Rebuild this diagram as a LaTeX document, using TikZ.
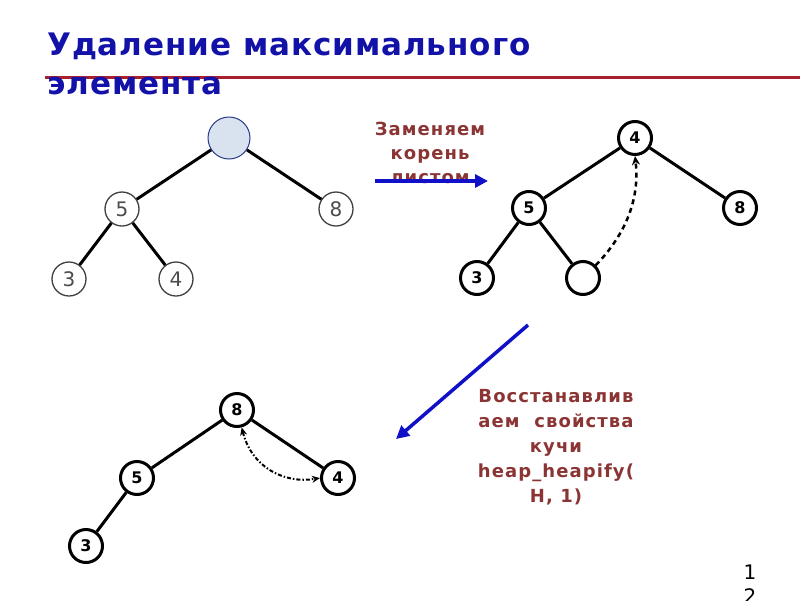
\documentclass[tikz,border=0pt]{standalone}
\usepackage{fontspec}
\setmainfont{DejaVu Sans}
\newfontfamily\titlefont[LetterSpace=3]{DejaVu Sans}
\newfontfamily\labfont[LetterSpace=6]{DejaVu Sans}
\usetikzlibrary{arrows.meta}
\definecolor{titleblue}{HTML}{1212A8}
\definecolor{labred}{HTML}{8A3434}
\definecolor{rootfill}{HTML}{D9E3F0}
\definecolor{rootdraw}{HTML}{2A3A8A}
\definecolor{linered}{HTML}{A82030}
\definecolor{arrblue}{HTML}{1010C8}
\tikzset{
  softnode/.style={circle,draw=black!75,line width=1.3pt,fill=white,minimum size=34pt,inner sep=0pt,font=\fontsize{20}{20}\selectfont,text=black!70},
  hardnode/.style={circle,draw=black,line width=3pt,fill=white,minimum size=33pt,inner sep=0pt,font=\bfseries\fontsize{16}{16}\selectfont},
  edge/.style={line width=3pt,black},
  lab/.style={text=labred,font=\labfont\bfseries\fontsize{18}{24}\selectfont,align=center},
  bluearrow/.style={arrblue,line width=3.5pt,-{Triangle[length=13pt,width=13pt]}}
}
\begin{document}
\begin{tikzpicture}[x=1pt,y=-1pt]
\useasboundingbox (0,0) rectangle (800,600);
% title
\node[anchor=base west,inner sep=0pt,text=titleblue,font=\titlefont\bfseries\fontsize{31}{31}\selectfont] (t1) at (47,55) {Удаление максимального};
\draw[linered,line width=3pt] (45,77) -- (800,77);
\node[anchor=base west,inner sep=0pt,text=titleblue,font=\titlefont\bfseries\fontsize{31}{31}\selectfont] (t2) at (47,94) {элемента};
% left tree
\node[circle,draw=rootdraw,line width=1pt,fill=rootfill,minimum size=42pt,inner sep=0pt] (a0) at (229,138) {};
\node[softnode] (a5) at (122,209) {5};
\node[softnode] (a8) at (336,209) {8};
\node[softnode] (a3) at (69,279) {3};
\node[softnode] (a4) at (176,279) {4};
\draw[edge] (a0) -- (a5);
\draw[edge] (a0) -- (a8);
\draw[edge] (a5) -- (a3);
\draw[edge] (a5) -- (a4);
% label 1
\node[lab] (l1) at (430,153) {Заменяем\\корень\\листом};
\coordinate (s1) at (375,181);
\coordinate (e1) at (488,181);
\draw[bluearrow] (s1) -- (e1);
% right tree
\node[hardnode] (b4) at (635,138) {4};
\node[hardnode] (b5) at (529,208) {5};
\node[hardnode] (b8) at (740,208) {8};
\node[hardnode] (b3) at (477,278) {3};
\node[hardnode] (be) at (583,278) {};
\draw[edge] (b4) -- (b5);
\draw[edge] (b4) -- (b8);
\draw[edge] (b5) -- (b3);
\draw[edge] (b5) -- (be);
\draw[black,line width=2.5pt,dashed,dash pattern=on 5pt off 4pt,-{Stealth[length=9pt,width=8pt]}] (be.north east) .. controls (625,235) and (640,200) .. (b4.south);
% label 2
\coordinate (s2) at (528,325);
\coordinate (e2) at (396,439);
\draw[bluearrow] (s2) -- (e2);
\node[lab,font=\labfont\bfseries\fontsize{18}{25}\selectfont] (l2) at (556,447) {Восстанавлив\\аем\ \ свойства\\кучи\\heap\_heapify(\\H, 1)};
% bottom tree
\node[hardnode] (c8) at (237,410) {8};
\node[hardnode] (c5) at (137,478) {5};
\node[hardnode] (c4) at (338,478) {4};
\node[hardnode] (c3) at (86,546) {3};
\draw[edge] (c8) -- (c5);
\draw[edge] (c8) -- (c4);
\draw[edge] (c5) -- (c3);
\draw[black,line width=2pt,dash pattern=on 4pt off 2pt on 1.5pt off 2pt,{Stealth[length=8pt,width=7pt]}-{Stealth[length=8pt,width=7pt]}] (c8.-75) .. controls (252,468) and (285,484) .. (c4.west);
% page number
\node[font=\fontsize{20}{24}\selectfont,align=center,anchor=north] (pg) at (750,561) {1\\2};
\end{tikzpicture}
\end{document}
